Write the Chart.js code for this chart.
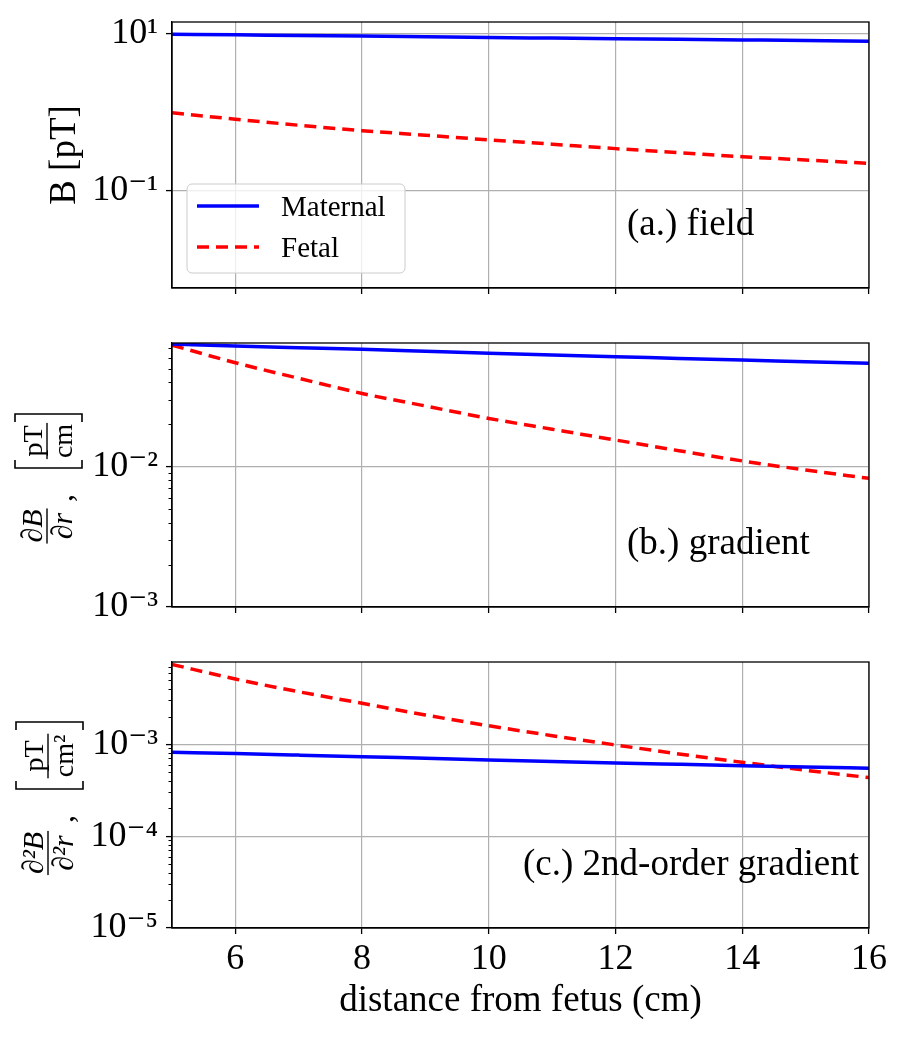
<!DOCTYPE html>
<html>
<head>
<meta charset="utf-8">
<script src="https://cdn.jsdelivr.net/npm/chart.js@4"></script>
<style>
  html, body { margin: 0; padding: 0; background: #fff; }
  #wrap { position: relative; width: 903px; height: 1037px; }
  canvas { position: absolute; left: 0; }
</style>
</head>
<body>
<div id="wrap">
  <canvas id="fieldChart" width="903" height="300" style="top:0px"></canvas>
  <canvas id="gradChart" width="903" height="298" style="top:321px"></canvas>
  <canvas id="grad2Chart" width="903" height="397" style="top:640px"></canvas>
</div>
<script>
// distance from fetus (cm)
const distances = [5, 6, 7, 8, 9, 10, 11, 12, 13, 14, 15, 16]
// (a.) field [pT]
const fieldMaternal = [9.9, 9.75, 9.55, 9.4, 9.2, 9.0, 8.85, 8.7, 8.55, 8.4, 8.25, 8.07]
const fieldFetal = [0.99, 0.82, 0.687, 0.586, 0.513, 0.447, 0.394, 0.346, 0.308, 0.273, 0.248, 0.225]
// (b.) gradient [pT/cm]
const gradMaternal = [0.075, 0.0724, 0.0705, 0.0687, 0.0665, 0.0643, 0.0625, 0.0608, 0.0592, 0.0576, 0.0561, 0.0546]
const gradFetal = [0.0736, 0.0551, 0.0427, 0.0333, 0.0271, 0.0221, 0.0185, 0.0155, 0.013, 0.011, 0.00947, 0.00826]
// (c.) 2nd-order gradient [pT/cm^2]
const grad2Maternal = [0.000818, 0.000791, 0.000762, 0.000733, 0.000703, 0.000675, 0.00065, 0.000626, 0.000605, 0.000585, 0.000566, 0.000548]
const grad2Fetal = [0.00741, 0.00513, 0.00373, 0.00279, 0.00208, 0.00159, 0.00124, 0.000983, 0.000785, 0.000637, 0.000521, 0.000434]

const xTicks = [6, 8, 10, 12, 14, 16]
const fieldTicks = [10, 0.1]
const gradTicks = [1e-2, 1e-3]
const grad2Ticks = [1e-3, 1e-4, 1e-5]
const seriesLabels = ["Maternal", "Fetal"]

const FONT = "'Liberation Serif', 'DejaVu Serif', serif"
const SUP = { "-": "\u207B", "0": "\u2070", "1": "\u00B9", "2": "\u00B2", "3": "\u00B3", "4": "\u2074", "5": "\u2075" }

function powLabel(v) {
  const e = Math.round(Math.log10(v))
  return "10" + String(e).split("").map(c => SUP[c]).join("")
}

function drawFrac(ctx, num, den, cx, font) {
  ctx.font = font
  ctx.textAlign = "center"
  ctx.textBaseline = "alphabetic"
  ctx.fillText(num, cx, -5)
  ctx.fillText(den, cx, 25)
  const w = Math.max(ctx.measureText(num).width, ctx.measureText(den).width)
  ctx.fillRect(cx - w / 2 - 1, -0.7, w + 2, 1.4)
}

function drawBracket(ctx, x, dir) {
  ctx.beginPath()
  ctx.moveTo(x + dir * 8, -32)
  ctx.lineTo(x, -32)
  ctx.lineTo(x, 35)
  ctx.lineTo(x + dir * 8, 35)
  ctx.lineWidth = 1.6
  ctx.strokeStyle = "#000"
  ctx.stroke()
}

function labelField(ctx) {
  ctx.translate(75, 155)
  ctx.rotate(-Math.PI / 2)
  ctx.font = `37px ${FONT}`
  ctx.textAlign = "center"
  ctx.fillText("B [pT]", 0, 0)
}

function labelGrad(ctx) {
  ctx.translate(47, 159)
  ctx.rotate(-Math.PI / 2)
  drawFrac(ctx, "\u2202B", "\u2202r", -46, `italic 30px ${FONT}`)
  ctx.font = `32px ${FONT}`
  ctx.fillText(",", -18, 25)
  drawBracket(ctx, 12, 1)
  drawBracket(ctx, 66, -1)
  drawFrac(ctx, "pT", "cm", 39, `28px ${FONT}`)
}

function labelGrad2(ctx) {
  ctx.translate(48, 155)
  ctx.rotate(-Math.PI / 2)
  drawFrac(ctx, "\u2202\u00B2B", "\u2202\u00B2r", -58, `italic 30px ${FONT}`)
  ctx.font = `32px ${FONT}`
  ctx.fillText(",", -24, 25)
  drawBracket(ctx, 6, 1)
  drawBracket(ctx, 73, -1)
  drawFrac(ctx, "pT", "cm\u00B2", 39, `28px ${FONT}`)
}

function drawLegend(chart) {
  const ctx = chart.ctx
  const a = chart.chartArea
  const x = a.left + 15, y = a.top + 162, w = 218, h = 89
  ctx.beginPath()
  ctx.roundRect(x, y, w, h, 5)
  ctx.fillStyle = "rgba(255,255,255,0.8)"
  ctx.fill()
  ctx.strokeStyle = "#cccccc"
  ctx.lineWidth = 1
  ctx.stroke()
  chart.data.datasets.forEach((ds, i) => {
    const ly = y + 22 + i * 41
    ctx.beginPath()
    ctx.setLineDash(ds.borderDash || [])
    ctx.strokeStyle = ds.borderColor
    ctx.lineWidth = ds.borderWidth
    ctx.moveTo(x + 10, ly)
    ctx.lineTo(x + 72, ly)
    ctx.stroke()
    ctx.setLineDash([])
    ctx.fillStyle = "#000"
    ctx.font = `29px ${FONT}`
    ctx.textAlign = "left"
    ctx.textBaseline = "alphabetic"
    ctx.fillText(ds.label, x + 94, ly + 10)
  })
}

function makeDecor(cfg) {
  return {
    id: "decor",
    afterDatasetsDraw(chart) {
      const { ctx, chartArea: a } = chart
      const y = chart.scales.y
      ctx.save()
      if (cfg.minor) {
        ctx.strokeStyle = "#000"
        ctx.lineWidth = 1
        const lo = Math.floor(Math.log10(y.min)), hi = Math.ceil(Math.log10(y.max))
        for (let e = lo; e < hi; e++) {
          for (let k = 2; k < 10; k++) {
            const v = k * Math.pow(10, e)
            if (v < y.min || v > y.max) continue
            const py = Math.round(y.getPixelForValue(v)) + 0.5
            ctx.beginPath()
            ctx.moveTo(a.left - 3.5, py)
            ctx.lineTo(a.left, py)
            ctx.stroke()
          }
        }
      }
      ctx.strokeStyle = "#000"
      ctx.lineWidth = 1.3
      ctx.strokeRect(a.left, a.top, a.right - a.left, a.bottom - a.top)

      ctx.fillStyle = "#000"
      ctx.font = `37px ${FONT}`
      ctx.textAlign = "left"
      ctx.textBaseline = "alphabetic"
      ctx.fillText(cfg.note, cfg.noteX, a.bottom - 53)

      if (cfg.legend) drawLegend(chart)
      ctx.restore()

      ctx.save()
      ctx.fillStyle = "#000"
      cfg.yLabel(ctx)
      ctx.restore()
    }
  }
}

function makePanel(canvasId, maternal, fetal, yMin, yMax, yTicks, showX, xHeight, decor) {
  const grid = { color: "#b0b0b0", lineWidth: 1.2, tickColor: "#000", tickLength: 6, tickWidth: 1.3 }
  const border = { color: "#000", width: 1.3 }
  return new Chart(document.getElementById(canvasId), {
    type: "line",
    data: {
      datasets: [
        {
          label: seriesLabels[0],
          data: distances.map((d, i) => ({ x: d, y: maternal[i] })),
          borderColor: "#0000ff",
          borderWidth: 3.5,
          pointRadius: 0,
          cubicInterpolationMode: "monotone",
        },
        {
          label: seriesLabels[1],
          data: distances.map((d, i) => ({ x: d, y: fetal[i] })),
          borderColor: "#ff0000",
          borderDash: [12, 7],
          borderWidth: 3.5,
          pointRadius: 0,
          cubicInterpolationMode: "monotone",
        },
      ],
    },
    options: {
      responsive: false,
      animation: false,
      devicePixelRatio: 1,
      layout: { padding: { top: 22, right: 34, left: 0, bottom: 0 } },
      plugins: { legend: { display: false }, tooltip: { enabled: false } },
      scales: {
        x: {
          type: "linear",
          min: 5,
          max: 16,
          bounds: "data",
          afterBuildTicks: (s) => { s.ticks = xTicks.map(v => ({ value: v })) },
          afterFit: (s) => { s.height = xHeight; s.paddingLeft = 0; s.paddingRight = 0 },
          grid: grid,
          border: border,
          ticks: {
            display: showX,
            color: "#000",
            font: { family: FONT, size: 36 },
            padding: 4,
            maxRotation: 0,
            autoSkip: false,
          },
          title: {
            display: showX,
            text: "distance from fetus (cm)",
            color: "#000",
            font: { family: FONT, size: 37 },
            padding: { top: 0, bottom: 14 },
          },
        },
        y: {
          type: "logarithmic",
          min: yMin,
          max: yMax,
          bounds: "data",
          afterBuildTicks: (s) => { s.ticks = yTicks.map(v => ({ value: v })) },
          afterFit: (s) => { s.width = 172; s.paddingTop = 0; s.paddingBottom = 0 },
          grid: grid,
          border: border,
          ticks: {
            color: "#000",
            font: { family: FONT, size: 36 },
            padding: 8,
            autoSkip: false,
            callback: (v) => powLabel(v),
          },
        },
      },
    },
    plugins: [decor],
  })
}

makePanel("fieldChart", fieldMaternal, fieldFetal, 0.0058, 14.2, fieldTicks, false, 12,
  makeDecor({ note: "(a.) field", noteX: 627, minor: false, legend: true, yLabel: labelField }))
makePanel("gradChart", gradMaternal, gradFetal, 0.001, 0.0762, gradTicks, false, 12,
  makeDecor({ note: "(b.) gradient", noteX: 627, minor: true, legend: false, yLabel: labelGrad }))
makePanel("grad2Chart", grad2Maternal, grad2Fetal, 0.00001, 0.00786, grad2Ticks, true, 109,
  makeDecor({ note: "(c.) 2nd-order gradient", noteX: 523, minor: true, legend: false, yLabel: labelGrad2 }))
</script>
</body>
</html>
